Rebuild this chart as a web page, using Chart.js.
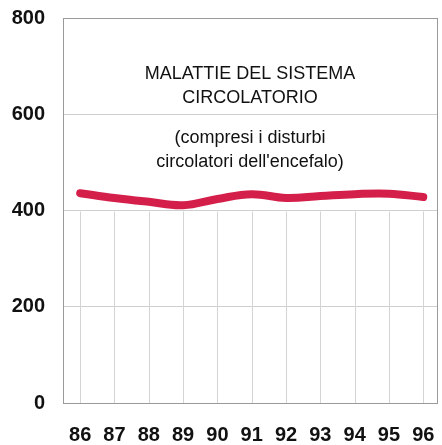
<!DOCTYPE html>
<html>
<head>
<meta charset="utf-8">
<script src="https://cdn.jsdelivr.net/npm/chart.js@4"></script>
<style>
html,body{margin:0;padding:0;background:#fff;}
#wrap{width:442px;height:445px;position:relative;}
</style>
</head>
<body>
<div id="wrap"><canvas id="c" width="442" height="445"></canvas></div>
<script>
const years = [86, 87, 88, 89, 90, 91, 92, 93, 94, 95, 96];
const values = [436, 426, 418, 411, 424, 434, 426, 430, 434, 435, 428];
const yTicks = [0, 200, 400, 600, 800];
const noteLines = ["MALATTIE DEL SISTEMA", "CIRCOLATORIO", "(compresi i disturbi", "circolatori dell'encefalo)"];
const verticalGridTop = 400;

const FONT = "'Liberation Sans', Arial, Helvetica, sans-serif";

const decor = {
  id: 'decor',
  beforeDatasetsDraw(chart) {
    const {ctx, chartArea: a, scales: {x, y}} = chart;
    ctx.save();
    ctx.strokeStyle = '#d4d4d4';
    ctx.lineWidth = 1;
    const yTop = Math.round(y.getPixelForValue(verticalGridTop)) + 0.5;
    const yBot = Math.round(y.getPixelForValue(0)) + 0.5;
    years.forEach(v => {
      const px = Math.round(x.getPixelForValue(v)) + 0.5;
      ctx.beginPath(); ctx.moveTo(px, yTop); ctx.lineTo(px, yBot); ctx.stroke();
    });
    ctx.strokeStyle = '#9a9a9a';
    ctx.strokeRect(Math.round(a.left) + 0.5, Math.round(a.top) + 0.5, Math.round(a.right - a.left), Math.round(a.bottom - a.top));
    ctx.fillStyle = '#111';
    ctx.font = '18px ' + FONT;
    ctx.textAlign = 'center';
    ctx.textBaseline = 'alphabetic';
    const cx = (a.left + a.right) / 2;
    const baselines = [79, 103, 143, 167];
    noteLines.forEach((t, i) => ctx.fillText(t, cx, baselines[i]));
    ctx.restore();
  }
};

new Chart(document.getElementById('c'), {
  type: 'line',
  data: {
    datasets: [{
      data: years.map((yr, i) => ({x: yr, y: values[i]})),
      borderColor: '#d51f4b',
      borderWidth: 8,
      borderCapStyle: 'round',
      borderJoinStyle: 'round',
      pointRadius: 0,
      tension: 0.4,
      fill: false
    }]
  },
  options: {
    responsive: false,
    animation: false,
    layout: {padding: {top: 18, right: 5, left: 0, bottom: 0}},
    plugins: {legend: {display: false}, tooltip: {enabled: false}},
    scales: {
      x: {
        type: 'linear',
        min: 85.5,
        max: 96.4,
        afterBuildTicks(scale) { scale.ticks = years.map(v => ({value: v})); },
        afterFit(scale) { scale.height = 42; scale.paddingLeft = 0; scale.paddingRight = 0; },
        grid: {display: false, drawTicks: false},
        border: {display: false},
        ticks: {
          padding: 20,
          color: '#111',
          font: {family: FONT, size: 20, weight: 'bold'},
          maxRotation: 0,
          autoSkip: false
        }
      },
      y: {
        min: 0,
        max: 800,
        afterBuildTicks(scale) { scale.ticks = yTicks.map(v => ({value: v})); },
        afterFit(scale) { scale.width = 63; scale.paddingTop = 0; scale.paddingBottom = 0; },
        grid: {color: '#cfcfcf', drawTicks: false, lineWidth: 1},
        border: {display: false},
        ticks: {
          padding: 18,
          color: '#111',
          font: {family: FONT, size: 20, weight: 'bold'}
        }
      }
    }
  },
  plugins: [decor]
});
</script>
</body>
</html>
